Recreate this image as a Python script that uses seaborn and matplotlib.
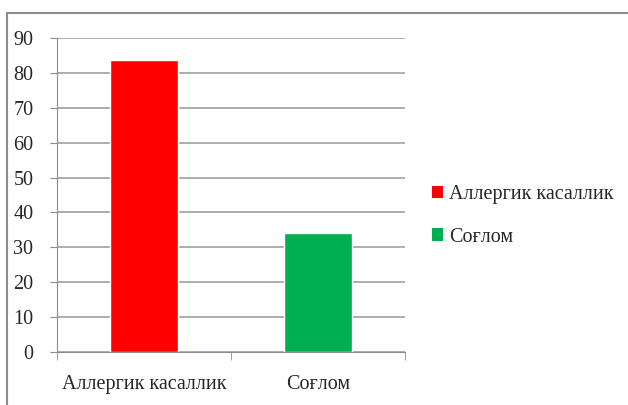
import numpy as np
import matplotlib.pyplot as plt
import seaborn as sns
import pandas as pd
from matplotlib.patches import Patch
from matplotlib.lines import Line2D

categories = ["Аллергик касаллик", "Соғлом"]
values = [83.7, 34.1]
colors = ["#ff0000", "#00b050"]

df = pd.DataFrame({"group": categories, "value": values})

sns.set_style("white")
plt.rcParams['font.family'] = ['Liberation Serif', 'DejaVu Serif']

fig = plt.figure(figsize=(6.28, 4.05), dpi=100)
ax = fig.add_axes([57/628, 1-352/405, 348/628, 314/405])

sns.barplot(data=df, x="group", y="value", hue="group", palette=colors,
            width=0.39, saturation=1, legend=False, ax=ax, zorder=3)

ax.set_ylim(0, 90)
ax.set_xlim(-0.5, 1.5)
ax.set_yticks(np.arange(0, 91, 10))
ax.yaxis.grid(True, color="#a0a0a0", linewidth=1.2, zorder=0)
ax.set_xlabel("")
ax.set_ylabel("")
for s in ["top", "right"]:
    ax.spines[s].set_visible(False)
ax.spines["left"].set_color("#8c8c8c")
ax.spines["bottom"].set_color("#8c8c8c")
ax.tick_params(axis="y", left=True, length=5, color="#8c8c8c", labelsize=14.5, pad=12)
ax.tick_params(axis="x", bottom=False, labelsize=14.5, pad=13)
# category separator ticks
ax.set_xticks([-0.5, 0.5, 1.5], minor=True)
ax.tick_params(axis="x", which="minor", bottom=True, length=6, color="#8c8c8c")

handles = [Patch(facecolor=c, edgecolor="none") for c in colors]
fig.legend(handles, categories, loc="center left", bbox_to_anchor=(414/628, 1-216/405),
           frameon=False, fontsize=14.5, handlelength=0.55, handleheight=0.55,
           handletextpad=0.3, labelspacing=1.15)

# outer chart frame (partly cropped)
fig.add_artist(Line2D([7/628, 1], [1-13/405, 1-13/405], transform=fig.transFigure,
                      color="#8c8c8c", linewidth=1.5))
fig.add_artist(Line2D([7/628, 7/628], [0, 1-13/405], transform=fig.transFigure,
                      color="#8c8c8c", linewidth=1.5))

fig.savefig("out.png", dpi=100)
